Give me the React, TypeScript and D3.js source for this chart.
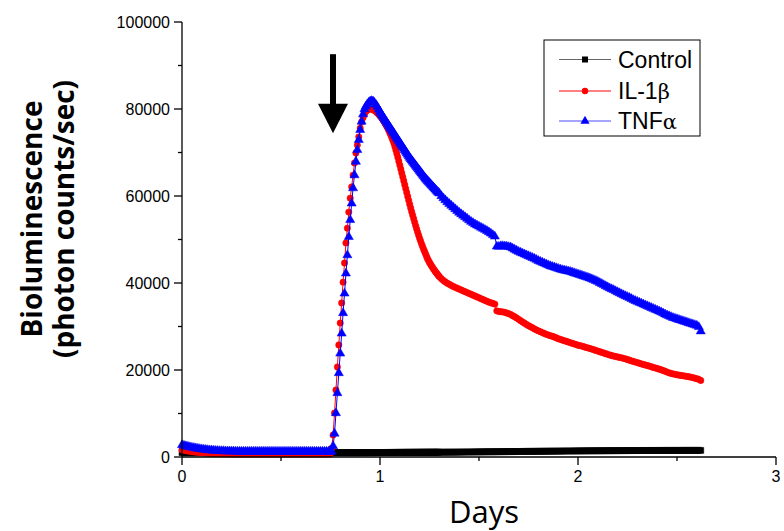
import React from 'react';
import * as d3 from 'd3';

// ---- data (days since start, photon counts/sec) ----
const days = [
  0.00, 0.01, 0.02, 0.03, 0.04, 0.05, 0.06, 0.07, 0.08, 0.09,
  0.10, 0.11, 0.12, 0.13, 0.14, 0.15, 0.16, 0.17, 0.18, 0.19,
  0.20, 0.21, 0.22, 0.23, 0.24, 0.25, 0.26, 0.27, 0.28, 0.29,
  0.30, 0.31, 0.32, 0.33, 0.34, 0.35, 0.36, 0.37, 0.38, 0.39,
  0.40, 0.41, 0.42, 0.43, 0.44, 0.45, 0.46, 0.47, 0.48, 0.49,
  0.50, 0.51, 0.52, 0.53, 0.54, 0.55, 0.56, 0.57, 0.58, 0.59,
  0.60, 0.61, 0.62, 0.63, 0.64, 0.65, 0.66, 0.67, 0.68, 0.69,
  0.70, 0.71, 0.72, 0.73, 0.74,
  0.7488, 0.756, 0.7632, 0.7704, 0.7776, 0.7848, 0.792, 0.7992, 0.8064, 0.8136,
  0.8208, 0.828, 0.8352, 0.8424, 0.8496, 0.8568, 0.864, 0.8712, 0.8784, 0.8856,
  0.8928, 0.9, 0.9072, 0.9144, 0.9216, 0.9288, 0.936, 0.9432, 0.9504, 0.9576,
  0.9648, 0.972, 0.9792, 0.9864, 0.9936,
  1.000, 1.005, 1.010, 1.015, 1.020, 1.025, 1.030, 1.035, 1.040, 1.045,
  1.050, 1.055, 1.060, 1.065, 1.070, 1.075, 1.080, 1.085, 1.090, 1.095,
  1.100, 1.105, 1.110, 1.115, 1.120, 1.125, 1.130, 1.135, 1.140, 1.145,
  1.150, 1.155, 1.160, 1.165, 1.170, 1.175, 1.180, 1.185, 1.190, 1.195,
  1.200, 1.205, 1.210, 1.215, 1.220, 1.225, 1.230, 1.235, 1.240, 1.245,
  1.250, 1.255, 1.260, 1.265, 1.270, 1.275, 1.280, 1.285, 1.290, 1.295,
  1.30, 1.31, 1.32, 1.33, 1.34, 1.35, 1.36, 1.37, 1.38, 1.39,
  1.40, 1.41, 1.42, 1.43, 1.44, 1.45, 1.46, 1.47, 1.48, 1.49,
  1.50, 1.51, 1.52, 1.53, 1.54, 1.55, 1.56, 1.57, 1.58, 1.59,
  1.60, 1.61, 1.62, 1.63, 1.64, 1.65, 1.66, 1.67, 1.68, 1.69,
  1.70, 1.71, 1.72, 1.73, 1.74, 1.75, 1.76, 1.77, 1.78, 1.79,
  1.80, 1.81, 1.82, 1.83, 1.84, 1.85, 1.86, 1.87, 1.88, 1.89,
  1.90, 1.91, 1.92, 1.93, 1.94, 1.95, 1.96, 1.97, 1.98, 1.99,
  2.00, 2.01, 2.02, 2.03, 2.04, 2.05, 2.06, 2.07, 2.08, 2.09,
  2.10, 2.11, 2.12, 2.13, 2.14, 2.15, 2.16, 2.17, 2.18, 2.19,
  2.20, 2.21, 2.22, 2.23, 2.24, 2.25, 2.26, 2.27, 2.28, 2.29,
  2.30, 2.31, 2.32, 2.33, 2.34, 2.35, 2.36, 2.37, 2.38, 2.39,
  2.40, 2.41, 2.42, 2.43, 2.44, 2.45, 2.46, 2.47, 2.48, 2.49,
  2.50, 2.51, 2.52, 2.53, 2.54, 2.55, 2.56, 2.57, 2.58, 2.59,
  2.60, 2.61, 2.62,
];

const control = [
  1000, 1000, 1000, 1000, 1000, 1000, 1000, 1000, 1000, 1000,
  1000, 1000, 1000, 1000, 1000, 1000, 1000, 1000, 1000, 1000,
  1000, 1000, 1000, 1000, 1000, 1000, 1000, 1000, 1000, 1000,
  1000, 1000, 1000, 1000, 1000, 1000, 1000, 1000, 1000, 1000,
  1000, 1000, 1000, 1000, 1000, 1000, 1000, 1000, 1000, 1000,
  1000, 1000, 1000, 1000, 1000, 1000, 1000, 1000, 1000, 1000,
  1000, 1000, 1000, 1000, 1000, 1000, 1000, 1000, 1000, 1000,
  1000, 1000, 1000, 1000, 1000,
  1000, 1000, 1000, 1000, 1000, 1000, 1000, 1000, 1000, 1000,
  1000, 1000, 1000, 1000, 1000, 1000, 1000, 1000, 1000, 1000,
  1010, 1010, 1010, 1010, 1010, 1010, 1020, 1020, 1020, 1020,
  1020, 1020, 1030, 1030, 1030,
  1030, 1030, 1030, 1032, 1035, 1035, 1035, 1037, 1040, 1040,
  1040, 1042, 1045, 1045, 1045, 1047, 1050, 1050, 1050, 1052,
  1055, 1055, 1055, 1057, 1060, 1060, 1060, 1062, 1065, 1065,
  1065, 1067, 1070, 1070, 1070, 1072, 1075, 1075, 1075, 1077,
  1080, 1080, 1080, 1082, 1085, 1085, 1085, 1087, 1090, 1090,
  1090, 1092, 1095, 1095, 1095, 1097, 1100, 1100, 1100, 1100,
  1100, 1105, 1105, 1110, 1110, 1115, 1115, 1120, 1120, 1125,
  1130, 1135, 1140, 1145, 1150, 1150, 1155, 1160, 1165, 1170,
  1175, 1180, 1185, 1190, 1195, 1200, 1200, 1205, 1210, 1215,
  1220, 1225, 1230, 1235, 1240, 1245, 1250, 1250, 1255, 1260,
  1265, 1270, 1275, 1280, 1285, 1290, 1295, 1300, 1300, 1305,
  1310, 1315, 1320, 1325, 1330, 1335, 1340, 1345, 1350, 1350,
  1355, 1360, 1365, 1370, 1375, 1380, 1380, 1385, 1390, 1395,
  1400, 1400, 1405, 1410, 1415, 1420, 1420, 1425, 1430, 1430,
  1435, 1440, 1440, 1445, 1450, 1450, 1455, 1460, 1460, 1465,
  1465, 1470, 1470, 1475, 1475, 1480, 1480, 1485, 1485, 1490,
  1490, 1490, 1495, 1495, 1495, 1500, 1500, 1500, 1500, 1505,
  1505, 1505, 1505, 1510, 1510, 1510, 1510, 1510, 1515, 1515,
  1515, 1515, 1515, 1520, 1520, 1520, 1520, 1520, 1520, 1520,
  1520, 1520, 1520,
];

const il1b = [
  1600, 1520, 1450, 1370, 1300, 1240, 1180, 1120, 1070, 1020,
  980, 940, 900, 870, 840, 815, 790, 775, 760, 750,
  740, 730, 720, 715, 710, 705, 700, 700, 700, 700,
  700, 700, 700, 700, 700, 700, 700, 700, 700, 700,
  700, 700, 700, 700, 700, 700, 700, 700, 700, 700,
  700, 700, 700, 700, 700, 700, 700, 700, 700, 700,
  700, 700, 700, 700, 700, 700, 700, 700, 700, 700,
  700, 700, 700, 700, 700,
  700, 2000, 5060, 10100, 15400, 20700, 25750, 30800, 35400, 40200,
  44600, 49200, 52600, 56300, 59500, 62100, 64800, 67600, 69900, 71700,
  73600, 75600, 77000, 78000, 78800, 79400, 79750, 79950, 80000, 80000,
  79850, 79650, 79400, 79100, 78750,
  78450, 78200, 77900, 77550, 77200, 76800, 76400, 75950, 75500, 75000,
  74500, 73950, 73400, 72800, 72200, 71400, 70600, 69750, 68900, 68000,
  67100, 66200, 65300, 64400, 63500, 62600, 61700, 60800, 59900, 59000,
  58100, 57250, 56400, 55600, 54800, 54000, 53200, 52450, 51700, 51000,
  50300, 49650, 49000, 48400, 47800, 47250, 46700, 46150, 45600, 45150,
  44700, 44320, 43950, 43600, 43250, 42920, 42600, 42300, 42000, 41720,
  41450, 41000, 40600, 40250, 39950, 39700, 39450, 39200, 39000, 38800,
  38600, 38400, 38200, 38000, 37800, 37600, 37400, 37200, 37000, 36800,
  36600, 36400, 36200, 36000, 35800, 35600, 35450, 35300, 35150, 33600,
  33450, 33400, 33350, 33250, 33100, 32950, 32750, 32500, 32250, 31950,
  31650, 31350, 31050, 30750, 30450, 30200, 29950, 29700, 29450, 29200,
  29000, 28800, 28600, 28400, 28200, 28050, 27900, 27750, 27600, 27400,
  27200, 27050, 26900, 26750, 26600, 26450, 26300, 26150, 26000, 25850,
  25700, 25600, 25500, 25350, 25200, 25080, 24950, 24800, 24650, 24500,
  24350, 24200, 24050, 23900, 23750, 23600, 23450, 23320, 23200, 23100,
  23000, 22900, 22800, 22680, 22550, 22400, 22250, 22100, 21950, 21820,
  21700, 21550, 21400, 21280, 21150, 21020, 20900, 20750, 20600, 20480,
  20350, 20200, 20050, 19880, 19700, 19520, 19350, 19220, 19100, 19000,
  18900, 18820, 18750, 18680, 18600, 18520, 18450, 18350, 18250, 18130,
  18000, 17850, 17600,
];

const tnfa = [
  2750, 2620, 2500, 2390, 2280, 2190, 2100, 2010, 1930, 1860,
  1790, 1730, 1670, 1620, 1570, 1530, 1490, 1460, 1430, 1400,
  1380, 1360, 1340, 1325, 1310, 1300, 1290, 1280, 1270, 1265,
  1260, 1255, 1250, 1250, 1250, 1250, 1250, 1250, 1250, 1250,
  1250, 1250, 1250, 1250, 1250, 1250, 1250, 1250, 1250, 1250,
  1250, 1250, 1250, 1250, 1250, 1250, 1250, 1250, 1250, 1250,
  1250, 1250, 1250, 1250, 1250, 1250, 1250, 1250, 1250, 1250,
  1250, 1250, 1250, 1250, 1250,
  1250, 1250, 2500, 5400, 10100, 14700, 19300, 23800, 28400, 33100,
  37600, 42200, 46400, 50600, 54500, 58300, 61800, 64800, 67900, 70600,
  72900, 75200, 77100, 78800, 80000, 80600, 81100, 81500, 81750, 81850,
  81750, 81450, 81000, 80500, 79900,
  79400, 79000, 78600, 78250, 77900, 77550, 77200, 76850, 76500, 76150,
  75800, 75450, 75100, 74750, 74400, 74050, 73700, 73350, 73000, 72650,
  72300, 71950, 71600, 71250, 70900, 70550, 70200, 69850, 69500, 69150,
  68800, 68500, 68200, 67900, 67600, 67300, 67000, 66700, 66400, 66100,
  65800, 65500, 65200, 64900, 64600, 64300, 64000, 63750, 63500, 63250,
  63000, 62750, 62500, 62250, 62000, 61750, 61500, 61250, 61000, 60800,
  60600, 60000, 59500, 59050, 58600, 58200, 57800, 57400, 57000, 56600,
  56200, 55850, 55500, 55150, 54800, 54450, 54100, 53800, 53500, 53250,
  53000, 52750, 52500, 52250, 52000, 51700, 51400, 51050, 50700, 48400,
  48350, 48500, 48500, 48450, 48400, 48300, 48200, 47950, 47700, 47450,
  47200, 47000, 46800, 46600, 46400, 46200, 46000, 45800, 45600, 45350,
  45100, 44900, 44700, 44500, 44300, 44100, 43900, 43750, 43600, 43450,
  43300, 43150, 43000, 42900, 42800, 42700, 42600, 42450, 42300, 42150,
  42000, 41850, 41700, 41550, 41400, 41250, 41070, 40900, 40700, 40500,
  40300, 40050, 39800, 39550, 39300, 39050, 38800, 38600, 38400, 38150,
  37900, 37680, 37450, 37220, 37000, 36800, 36600, 36350, 36100, 35900,
  35700, 35500, 35300, 35100, 34900, 34700, 34500, 34300, 34100, 33900,
  33700, 33500, 33300, 33050, 32800, 32600, 32400, 32200, 32000, 31850,
  31700, 31550, 31400, 31250, 31100, 30950, 30800, 30650, 30500, 30350,
  30200, 29900, 28900,
];

const yTicks = [0, 20000, 40000, 60000, 80000, 100000];
const yMinorTicks = [10000, 30000, 50000, 70000, 90000];
const xTicks = [0, 1, 2, 3];
const xMinorTicks = [0.5, 1.5, 2.5];

// stimulus arrow (in data units)
const arrowDay = 0.7626;
const arrowTop = 92600;
const arrowHeadBase = 81200;
const arrowTip = 74400;

const seriesNames = ['Control', 'IL-1', 'TNF'];
const greekSuffix = ['', 'β', 'α'];

export default function App() {
  const W = 784;
  const H = 531;
  const x = d3.scaleLinear().domain([0, 3]).range([182, 776]);
  const y = d3.scaleLinear().domain([0, 100000]).range([457, 22]);

  const series = [
    { vals: control, color: '#000000', sym: d3.symbolSquare, size: 36 },
    { vals: il1b, color: '#ff0000', sym: d3.symbolCircle, size: 32 },
    { vals: tnfa, color: '#0000ff', sym: d3.symbolTriangle, size: 36 },
  ];

  const n = (vals: number[]) => Math.min(vals.length, days.length);

  const lineGen = (vals: number[]) =>
    d3
      .line<number>()
      .x((_, i) => x(days[i]))
      .y((v) => y(v))(vals.slice(0, n(vals))) || '';

  const tickFont = "'Liberation Sans', Arial, sans-serif";
  const titleFont = "'Open Sans', 'Noto Sans', sans-serif";
  const ax = x(0);
  const ay = y(0);

  const legendX = 544;
  const legendY = 40;
  const legendRows = [59.5, 91, 121];

  const ahx = x(arrowDay);

  return (
    <svg
      width={W}
      height={H}
      style={{ position: 'absolute', left: 0, top: 0, background: '#fff' }}
      xmlns="http://www.w3.org/2000/svg"
    >
      <rect x={0} y={0} width={W} height={H} fill="#fff" />

      {/* data */}
      {series.map((s, si) => {
        const symPath = d3.symbol().type(s.sym).size(s.size)() || '';
        return (
          <g key={si}>
            <path d={lineGen(s.vals)} fill="none" stroke={s.color} strokeWidth={1} />
            {s.vals.slice(0, n(s.vals)).map((v, i) => (
              <path
                key={i}
                d={symPath}
                transform={`translate(${x(days[i])},${y(v)})`}
                fill={s.color}
                stroke={s.color}
                strokeWidth={0.5}
              />
            ))}
          </g>
        );
      })}

      {/* axes */}
      <g stroke="#000" strokeWidth={1.3} fill="none">
        <line x1={ax} y1={y(100000)} x2={ax} y2={ay} />
        <line x1={ax} y1={ay} x2={x(3)} y2={ay} />
        {yTicks.map((t) => (
          <line key={'ym' + t} x1={ax - 8} x2={ax} y1={y(t)} y2={y(t)} />
        ))}
        {yMinorTicks.map((t) => (
          <line key={'yn' + t} x1={ax - 4} x2={ax} y1={y(t)} y2={y(t)} />
        ))}
        {xTicks.map((t) => (
          <line key={'xm' + t} x1={x(t)} x2={x(t)} y1={ay} y2={ay + 8} />
        ))}
        {xMinorTicks.map((t) => (
          <line key={'xn' + t} x1={x(t)} x2={x(t)} y1={ay} y2={ay + 4} />
        ))}
      </g>
      <g fontFamily={tickFont} fontSize={16} fill="#000">
        {yTicks.map((t) => (
          <text key={'yl' + t} x={ax - 12} y={y(t) + 5.7} textAnchor="end">
            {t}
          </text>
        ))}
        {xTicks.map((t) => (
          <text key={'xl' + t} x={x(t)} y={482} textAnchor="middle">
            {t}
          </text>
        ))}
      </g>

      {/* axis titles */}
      <text x={484} y={523} textAnchor="middle" fontFamily={titleFont} fontSize={31} fill="#000">
        Days
      </text>
      <g transform="translate(0,219) rotate(-90)">
        <text
          x={0}
          y={42}
          textAnchor="middle"
          fontFamily={titleFont}
          fontWeight="bold"
          fontSize={29}
          textLength={237}
          lengthAdjust="spacingAndGlyphs"
          fill="#000"
        >
          Bioluminescence
        </text>
        <text
          x={0}
          y={74}
          textAnchor="middle"
          fontFamily={titleFont}
          fontWeight="bold"
          fontSize={29}
          textLength={278}
          lengthAdjust="spacingAndGlyphs"
          fill="#000"
        >
          (photon counts/sec)
        </text>
      </g>

      {/* arrow */}
      <rect
        x={ahx - 3}
        y={y(arrowTop)}
        width={6}
        height={y(arrowHeadBase) - y(arrowTop) + 1}
        fill="#000"
      />
      <path
        d={`M${ahx - 15},${y(arrowHeadBase)} L${ahx + 15},${y(arrowHeadBase)} L${ahx},${y(arrowTip)} Z`}
        fill="#000"
      />

      {/* legend */}
      <rect x={legendX} y={legendY} width={156} height={96} fill="#fff" stroke="#000" strokeWidth={1} />
      {series.map((s, i) => {
        const symPath = d3.symbol().type(s.sym).size(s.size)() || '';
        const ly = legendRows[i];
        return (
          <g key={'lg' + i}>
            <line
              x1={559}
              x2={611}
              y1={ly}
              y2={ly}
              stroke={s.color}
              strokeWidth={1}
              opacity={i === 0 ? 0.6 : i === 2 ? 0.7 : 1}
            />
            <path d={symPath} transform={`translate(585,${ly})`} fill={s.color} />
            <text x={618} y={ly + 8} fontFamily={tickFont} fontSize={23} fill="#000">
              {seriesNames[i]}
              {greekSuffix[i] && (
                <tspan fontFamily="'DejaVu Serif', 'Liberation Serif', serif" fontSize={21}>
                  {greekSuffix[i]}
                </tspan>
              )}
            </text>
          </g>
        );
      })}
    </svg>
  );
}
